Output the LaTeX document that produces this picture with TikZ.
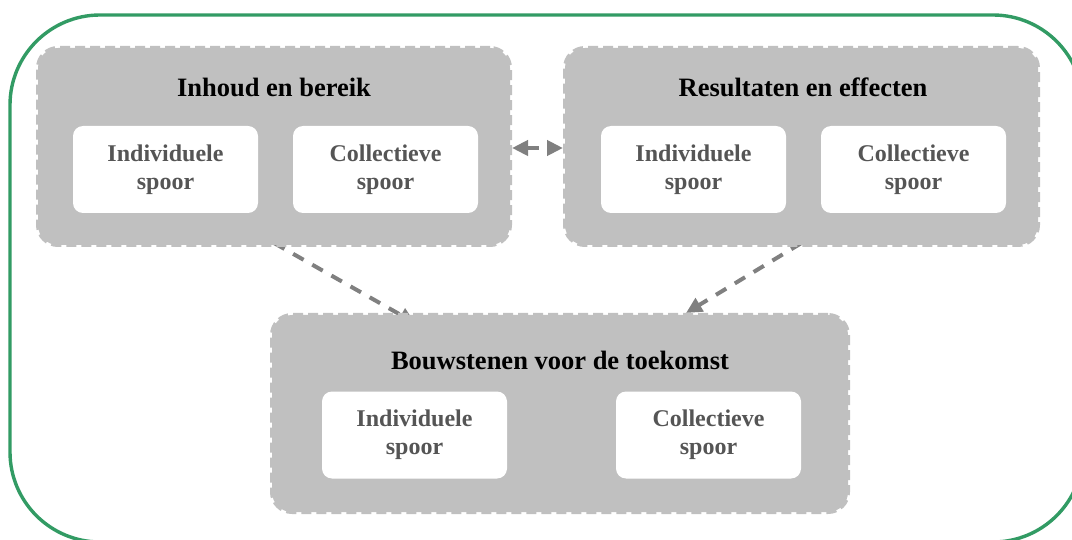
\documentclass[tikz,border=0pt]{standalone}
\usepackage{fontspec}
\setmainfont{Liberation Serif}
\usetikzlibrary{arrows.meta,backgrounds}
\definecolor{outergreen}{RGB}{50,155,100}
\definecolor{boxgray}{RGB}{192,192,192}
\definecolor{arrowgray}{RGB}{128,128,128}
\definecolor{txtgray}{RGB}{85,85,85}
\tikzset{
  outerframe/.style={draw=outergreen, line width=3.4pt, rounded corners=90pt},
  groupbox/.style={fill=boxgray, draw=boxgray, line width=4pt, dash pattern=on 10pt off 5pt,
    rounded corners=20pt, inner sep=0pt},
  grouptitle/.style={font=\fontsize{26.5}{30}\selectfont\bfseries, text=black, anchor=base, inner sep=0pt},
  itembox/.style={fill=white, rounded corners=10pt, minimum width=185pt, minimum height=87pt,
    inner sep=0pt, align=center, text=txtgray, font=\fontsize{24}{28}\selectfont\bfseries},
  conn/.style={draw=arrowgray, line width=4pt, dash pattern=on 12pt off 10pt},
  tip/.style={-{Triangle[length=16pt,width=15pt]}},
  bothtips/.style={{Triangle[length=16pt,width=15pt]}-{Triangle[length=16pt,width=15pt]}}
}
\begin{document}
\begin{tikzpicture}[x=1pt,y=-1pt]
\useasboundingbox (0,0) rectangle (1072,540);
\draw[outerframe] (10,15) rectangle (1083,542);

\node[groupbox, minimum width=472pt, minimum height=197pt] (g1) at (274,146.5) {};
\node[groupbox, minimum width=473pt, minimum height=197pt] (g2) at (801.5,146.5) {};
\node[groupbox, minimum width=576pt, minimum height=197pt] (g3) at (560,413.5) {};

\node[grouptitle] (t1) at (274,97) {Inhoud en bereik};
\node[grouptitle] (t2) at (803,97) {Resultaten en effecten};
\node[grouptitle] (t3) at (560,370) {Bouwstenen voor de toekomst};

\node[itembox] (i1) at (165.5,169.5) {Individuele\\spoor};
\node[itembox] (c1) at (385.5,169.5) {Collectieve\\spoor};
\node[itembox] (i2) at (693.5,169.5) {Individuele\\spoor};
\node[itembox] (c2) at (913.5,169.5) {Collectieve\\spoor};
\node[itembox] (i3) at (414.5,435) {Individuele\\spoor};
\node[itembox] (c3) at (708.5,435) {Collectieve\\spoor};

\begin{scope}[on background layer]
\draw[conn, bothtips] ([yshift=-1.5pt]g1.east) -- ([yshift=-1.5pt]g2.west);
\draw[conn, tip] ([yshift=4pt]g1.south) -- ([xshift=-145pt,yshift=-10pt]g3.north);
\draw[conn, tip] ([yshift=4pt]g2.south) -- ([xshift=126pt]g3.north);
\end{scope}
\end{tikzpicture}
\end{document}
